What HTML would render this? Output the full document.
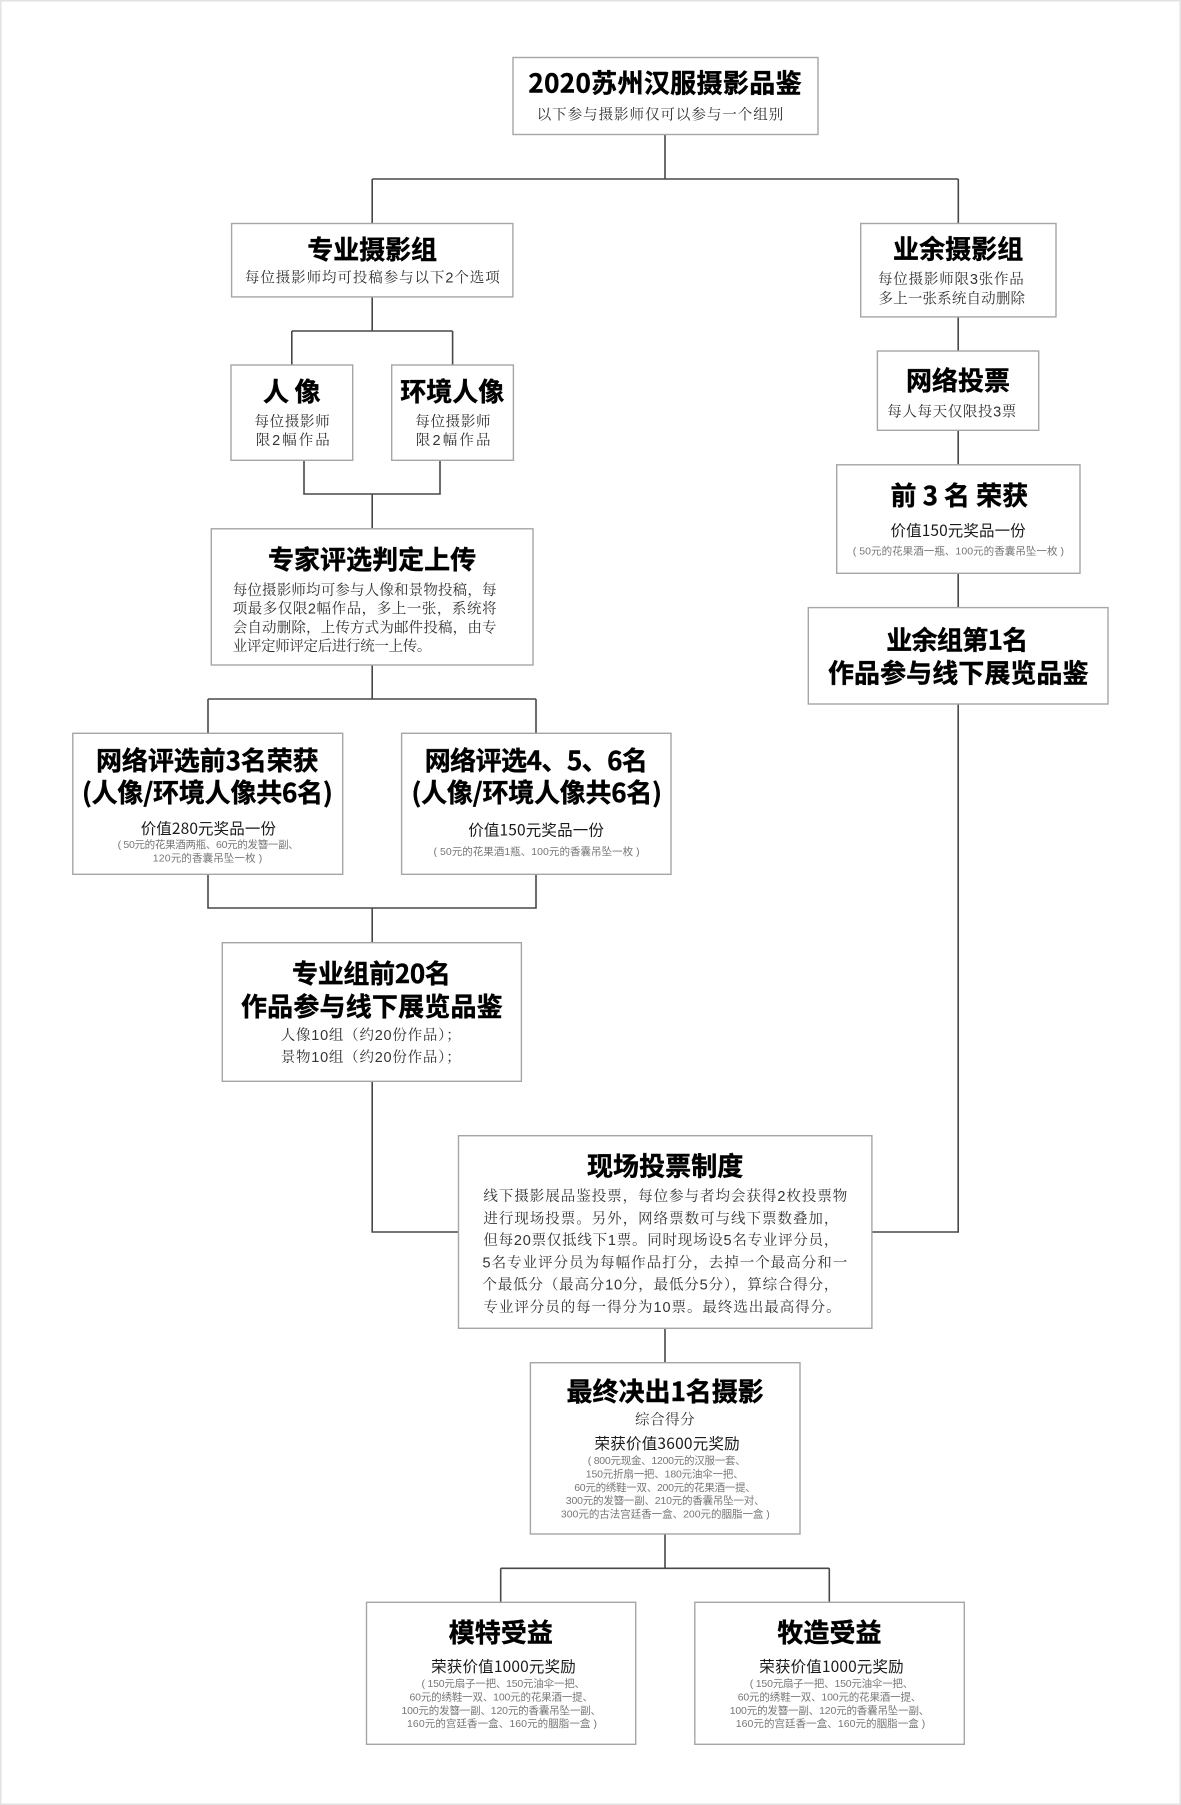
<!DOCTYPE html>
<html lang="zh"><head><meta charset="utf-8"><title>2020苏州汉服摄影品鉴</title>
<style>
html,body{margin:0;padding:0;background:#fff;width:1181px;height:1805px;overflow:hidden}
svg{display:block}
.b{fill:#fff;stroke:#a6a6a6;stroke-width:1.4}
.l{fill:none;stroke:#484848;stroke-width:1.6}
text{white-space:pre}
.t{font:700 26px "Noto Sans CJK SC",sans-serif;fill:#000;stroke:#000;stroke-width:.4;transform:translateY(.8px)}
.s{font:400 14.5px "Liberation Sans","Noto Serif CJK SC",serif;fill:#333}
.p{font:400 15.5px "Noto Sans CJK SC",sans-serif;fill:#1a1a1a}
.m{font:400 10.5px "Liberation Sans","Noto Sans CJK SC",sans-serif;fill:#777}
</style></head><body>
<svg xmlns="http://www.w3.org/2000/svg" width="1181" height="1805" viewBox="0 0 1181 1805">
<rect x="0.75" y="0.75" width="1179.5" height="1803.5" fill="#fff" stroke="#e2e2e2" stroke-width="1.5"/>
<path class="l" d="M665 134V179M372.2 179H958.3M372.2 179V223M958.3 179V223"/>
<path class="l" d="M372.2 297V331M291.8 331H452.6M291.8 331V365M452.6 331V365"/>
<path class="l" d="M304 460V494H440V460M372.2 494V528"/>
<path class="l" d="M372.2 665V699M208 699H536M208 699V733M536 699V733"/>
<path class="l" d="M208 874V908H536V874M372.2 908V943"/>
<path class="l" d="M372.2 1081V1232H459"/>
<path class="l" d="M958.2 317V351M958.2 430V465M958.2 573V607M958.2 704V1232H872"/>
<path class="l" d="M665 1328V1363M665 1534V1568.3M500.7 1568.3H829.3M500.7 1568.3V1602M829.3 1568.3V1602"/>
<rect class="b" x="513" y="57.5" width="305" height="77"/>
<rect class="b" x="231.6" y="223.5" width="281.3" height="73.4"/>
<rect class="b" x="860.7" y="223.5" width="195.3" height="93.4"/>
<rect class="b" x="231" y="365" width="121.7" height="95.3"/>
<rect class="b" x="391.7" y="365" width="121.7" height="95.3"/>
<rect class="b" x="877.4" y="351" width="161.3" height="79.3"/>
<rect class="b" x="836.7" y="464.8" width="243.3" height="108.5"/>
<rect class="b" x="808.3" y="607.6" width="299.7" height="96.4"/>
<rect class="b" x="211.3" y="528.8" width="321.7" height="136.2"/>
<rect class="b" x="72.8" y="733.3" width="269.9" height="141"/>
<rect class="b" x="401.6" y="733.3" width="269.4" height="141"/>
<rect class="b" x="222.3" y="942.7" width="299.1" height="138.6"/>
<rect class="b" x="458.5" y="1135.7" width="413.4" height="192.6"/>
<rect class="b" x="530.4" y="1362.7" width="269.6" height="171.3"/>
<rect class="b" x="366.5" y="1602.3" width="269.2" height="142"/>
<rect class="b" x="694.8" y="1602.3" width="269.5" height="142"/>

<text class="t" x="528.4" y="91.5" textLength="273.2">2020苏州汉服摄影品鉴</text>
<text class="s" x="536.7" y="119.5" textLength="246.5">以下参与摄影师仅可以参与一个组别</text>
<text class="t" x="307.3" y="258" textLength="129.7">专业摄影组</text>
<text class="s" x="244.9" y="282.5" textLength="254.8">每位摄影师均可投稿参与以下2个选项</text>
<text class="t" x="893" y="257.5" textLength="130.3">业余摄影组</text>
<text class="s" x="878" y="284" textLength="145.8">每位摄影师限3张作品</text>
<text class="s" x="878.5" y="303.5" textLength="146.5">多上一张系统自动删除</text>
<text class="t" x="263" y="400" textLength="57.5">人 像</text>
<text class="s" x="254.5" y="426.5" textLength="75.2">每位摄影师</text>
<text class="s" x="255.7" y="445" textLength="74">限2幅作品</text>
<text class="t" x="400.3" y="400" textLength="104">环境人像</text>
<text class="s" x="415.3" y="426.5" textLength="75.2">每位摄影师</text>
<text class="s" x="415.8" y="445" textLength="74.7">限2幅作品</text>
<text class="t" x="906" y="389" textLength="104">网络投票</text>
<text class="s" x="887.3" y="416.5" textLength="129">每人每天仅限投3票</text>
<text class="t" x="890.5" y="504" textLength="137.8">前 3 名 荣获</text>
<text class="p" x="890.5" y="536" textLength="135.2">价值150元奖品一份</text>
<text class="m" x="852.7" y="554.5" textLength="211.3">( 50元的花果酒一瓶、100元的香囊吊坠一枚 )</text>
<text class="t" x="886.2" y="648.5" textLength="142.1">业余组第1名</text>
<text class="t" x="828" y="681.5" textLength="260.5">作品参与线下展览品鉴</text>

<text class="t" x="268" y="568" textLength="208.2">专家评选判定上传</text>
<text class="s" x="232.7" y="595" textLength="263.8">每位摄影师均可参与人像和景物投稿，每</text>
<text class="s" x="232.7" y="613.5" textLength="263.8">项最多仅限2幅作品，多上一张，系统将</text>
<text class="s" x="232.7" y="632.5" textLength="263.8">会自动删除，上传方式为邮件投稿，由专</text>
<text class="s" x="232.7" y="651" textLength="198.7">业评定师评定后进行统一上传。</text>

<text class="t" x="96" y="769" textLength="222.7">网络评选前3名荣获</text>
<text class="t" x="82" y="801" textLength="250.8">(人像/环境人像共6名)</text>
<text class="p" x="140.7" y="834" textLength="135.3">价值280元奖品一份</text>
<text class="m" x="117.6" y="848" textLength="181.2">( 50元的花果酒两瓶、60元的发簪一副、</text>
<text class="m" x="152.8" y="861.5" textLength="109.5">120元的香囊吊坠一枚 )</text>
<text class="t" x="424.7" y="769" textLength="223.2">网络评选4、5、6名</text>
<text class="t" x="411.5" y="801" textLength="250.5">(人像/环境人像共6名)</text>
<text class="p" x="468.2" y="835.5" textLength="135.7">价值150元奖品一份</text>
<text class="m" x="433.5" y="855" textLength="206.1">( 50元的花果酒1瓶、100元的香囊吊坠一枚 )</text>

<text class="t" x="292" y="982" textLength="158.9">专业组前20名</text>
<text class="t" x="241" y="1015" textLength="261.7">作品参与线下展览品鉴</text>
<text class="s" x="280.7" y="1040" textLength="180">人像10组（约20份作品）；</text>
<text class="s" x="280.7" y="1062" textLength="180">景物10组（约20份作品）；</text>

<text class="t" x="587" y="1174.5" textLength="156.3">现场投票制度</text>
<text class="s" x="483.4" y="1201" textLength="363.9">线下摄影展品鉴投票，每位参与者均会获得2枚投票物</text>
<text class="s" x="483.4" y="1223.5" textLength="355">进行现场投票。另外，网络票数可与线下票数叠加，</text>
<text class="s" x="483.4" y="1245" textLength="355">但每20票仅抵线下1票。同时现场设5名专业评分员，</text>
<text class="s" x="482.5" y="1267.5" textLength="364.8">5名专业评分员为每幅作品打分，去掉一个最高分和一</text>
<text class="s" x="482.5" y="1289.5" textLength="355.9">个最低分（最高分10分，最低分5分），算综合得分，</text>
<text class="s" x="483.4" y="1312" textLength="357.2">专业评分员的每一得分为10票。最终选出最高得分。</text>

<text class="t" x="566.5" y="1400" textLength="197.3">最终决出1名摄影</text>
<text class="s" x="635" y="1424.5" textLength="59.7">综合得分</text>
<text class="p" x="594.5" y="1449" textLength="145.2">荣获价值3600元奖励</text>
<text class="m" x="587.8" y="1464" textLength="157.9">( 800元现金、1200元的汉服一套、</text>
<text class="m" x="585.8" y="1477.5" textLength="157.9">150元折扇一把、180元油伞一把、</text>
<text class="m" x="574.2" y="1491" textLength="181.6">60元的绣鞋一双、200元的花果酒一提、</text>
<text class="m" x="565.8" y="1504" textLength="198.8">300元的发簪一副、210元的香囊吊坠一对、</text>
<text class="m" x="560.9" y="1517.5" textLength="208.9">300元的古法宫廷香一盒、200元的胭脂一盒 )</text>

<text class="t" x="448.7" y="1641" textLength="104.2">模特受益</text>
<text class="p" x="431.1" y="1672" textLength="144.7">荣获价值1000元奖励</text>
<text class="m" x="421.5" y="1687" textLength="163.5">( 150元扇子一把、150元油伞一把、</text>
<text class="m" x="409.5" y="1700.5" textLength="183.5">60元的绣鞋一双、100元的花果酒一提、</text>
<text class="m" x="401.4" y="1714" textLength="199.6">100元的发簪一副、120元的香囊吊坠一副、</text>
<text class="m" x="407" y="1727" textLength="190">160元的宫廷香一盒、160元的胭脂一盒 )</text>

<text class="t" x="777.4" y="1641" textLength="104.1">牧造受益</text>
<text class="p" x="759.3" y="1672" textLength="144.3">荣获价值1000元奖励</text>
<text class="m" x="749.8" y="1687" textLength="163.5">( 150元扇子一把、150元油伞一把、</text>
<text class="m" x="737.7" y="1700.5" textLength="183.6">60元的绣鞋一双、100元的花果酒一提、</text>
<text class="m" x="729.7" y="1714" textLength="199.6">100元的发簪一副、120元的香囊吊坠一副、</text>
<text class="m" x="735.7" y="1727" textLength="189.6">160元的宫廷香一盒、160元的胭脂一盒 )</text>
</svg>
</body></html>
